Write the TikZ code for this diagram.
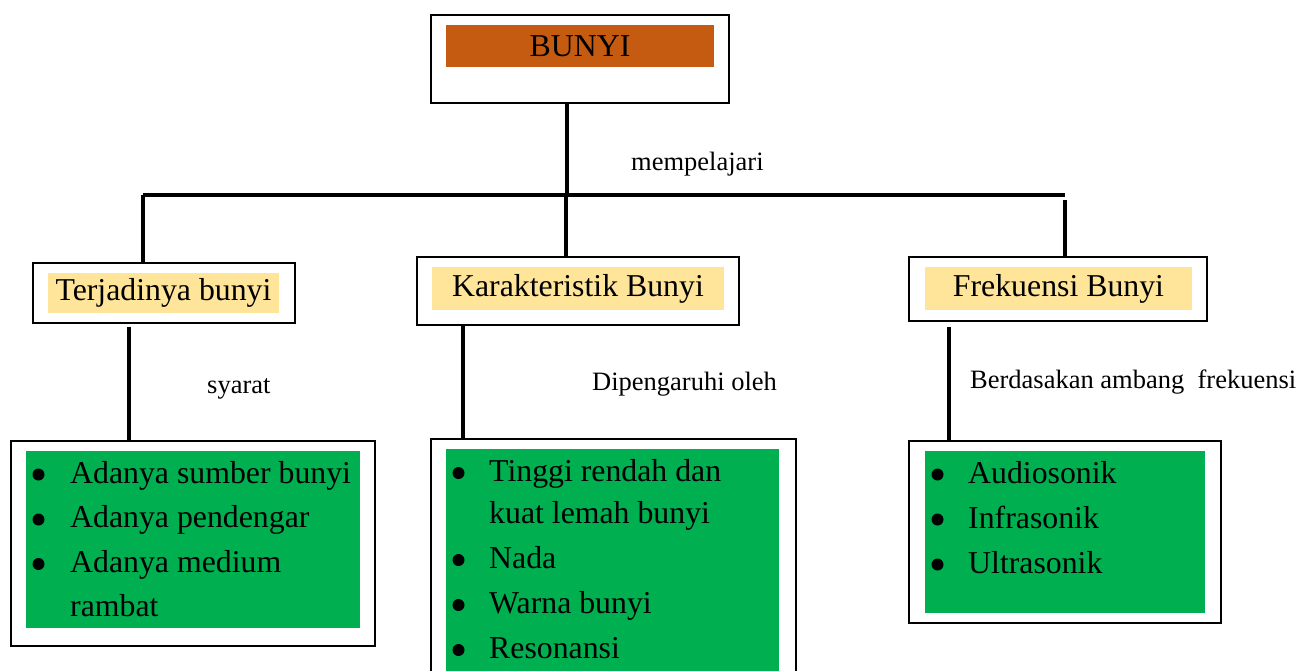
\documentclass[tikz,border=0pt]{standalone}
\usepackage{fontspec}
\setmainfont{Liberation Serif}
\definecolor{brorange}{HTML}{C55A11}
\definecolor{lightyel}{HTML}{FFE599}
\definecolor{wgreen}{HTML}{00B050}
\begin{document}
\begin{tikzpicture}[x=1pt,y=-1pt,
  outerbox/.style={draw=black,line width=1.2pt,fill=white,rectangle,inner sep=0pt},
  titlefill/.style={rectangle,inner sep=0pt,font=\fontsize{31.8}{38}\selectfont},
  greenfill/.style={rectangle,inner sep=0pt,fill=wgreen},
  itemtext/.style={anchor=base west,inner sep=0pt,font=\fontsize{31.8}{38}\selectfont},
  bulletdot/.style={circle,fill=black,minimum size=12pt,inner sep=0pt},
  lbl/.style={anchor=base west,inner sep=0pt,font=\fontsize{26.5}{32}\selectfont},
  conn/.style={line width=3.5pt}]
\useasboundingbox (0,0) rectangle (1311,670);
\clip (0,0) rectangle (1311,670);

% top node
\node[outerbox,minimum width=298pt,minimum height=88pt] (bunyi) at (580,59) {};
\node[titlefill,fill=brorange,minimum width=268pt,minimum height=42pt] (bunyiT) at (580,46) {BUNYI};

% second level
\node[outerbox,minimum width=262pt,minimum height=60pt] (terj) at (164,293) {};
\node[titlefill,fill=lightyel,minimum width=231pt,minimum height=40pt] (terjT) at (163.5,293) {Terjadinya bunyi};

\node[outerbox,minimum width=322pt,minimum height=68pt] (kar) at (578,291) {};
\node[titlefill,fill=lightyel,minimum width=292pt,minimum height=43pt] (karT) at (578,288.5) {Karakteristik Bunyi};

\node[outerbox,minimum width=298pt,minimum height=64pt] (frek) at (1058,289) {};
\node[titlefill,fill=lightyel,minimum width=267pt,minimum height=43pt] (frekT) at (1058.5,288.5) {Frekuensi Bunyi};

% bus coordinates
\coordinate (busL) at (143,195);
\coordinate (busM) at (566,195);
\coordinate (busR) at (1065,195);
\coordinate (busRt) at (1065,200);
\coordinate (busTop) at (567,195);

% connectors top
\draw[conn] (bunyi.south -| busTop) -- (busTop);
\draw[conn] (busL) -- (busR);
\draw[conn] (busL) -- (terj.north -| busL);
\draw[conn] (busM) -- (kar.north -| busM);
\draw[conn] (busRt) -- (frek.north -| busRt);
\node[lbl] (lblA) at (631,170) {mempelajari};

% third level boxes
\node[outerbox,minimum width=364pt,minimum height=205pt] (lbox) at (193,543.5) {};
\node[greenfill,minimum width=334pt,minimum height=177pt] (lboxG) at (193,539.5) {};

\node[outerbox,minimum width=365pt,minimum height=261pt] (mbox) at (613.5,569.5) {};
\node[greenfill,minimum width=333pt,minimum height=241pt] (mboxG) at (612.5,569.5) {};

\node[outerbox,minimum width=312pt,minimum height=182pt] (rbox) at (1065,532) {};
\node[greenfill,minimum width=280pt,minimum height=162pt] (rboxG) at (1065,532) {};

% lower connectors
\coordinate (cL) at (129,0);
\coordinate (cM) at (463,0);
\coordinate (cR) at (949,0);
\draw[conn] ([yshift=-3pt]terj.south -| cL) -- (lbox.north -| cL);
\draw[conn] (kar.south -| cM) -- (mbox.north -| cM);
\draw[conn] ([yshift=-5pt]frek.south -| cR) -- (rbox.north -| cR);

\node[lbl] (lblB) at (207,393) {syarat};
\node[lbl] (lblC) at (592,390) {Dipengaruhi oleh};
\node[lbl] (lblD) at (970,388) {Berdasakan ambang~~frekuensi};

% left list
\node[bulletdot] (lb1) at (38.5,474.5) {};
\node[itemtext] (lt1) at (70,483) {Adanya sumber bunyi};
\node[bulletdot] (lb2) at (38.5,519.5) {};
\node[itemtext] (lt2) at (70,527.5) {Adanya pendengar};
\node[bulletdot] (lb3) at (38.5,564) {};
\node[itemtext] (lt3) at (70,572) {Adanya medium};
\node[itemtext] (lt4) at (70,616.5) {rambat};

% middle list
\node[bulletdot] (mb1) at (458.5,473) {};
\node[itemtext] (mt1) at (489,481) {Tinggi rendah dan};
\node[itemtext] (mt2) at (489,523.5) {kuat lemah bunyi};
\node[bulletdot] (mb3) at (458.5,560) {};
\node[itemtext] (mt3) at (489,568) {Nada};
\node[bulletdot] (mb4) at (458.5,605) {};
\node[itemtext] (mt4) at (489,613) {Warna bunyi};
\node[bulletdot] (mb5) at (458.5,650) {};
\node[itemtext] (mt5) at (489,658) {Resonansi};

% right list
\node[bulletdot] (rb1) at (937.5,474.5) {};
\node[itemtext] (rt1) at (968,483) {Audiosonik};
\node[bulletdot] (rb2) at (937.5,519.5) {};
\node[itemtext] (rt2) at (968,528) {Infrasonik};
\node[bulletdot] (rb3) at (937.5,564.5) {};
\node[itemtext] (rt3) at (968,573) {Ultrasonik};
\end{tikzpicture}
\end{document}
